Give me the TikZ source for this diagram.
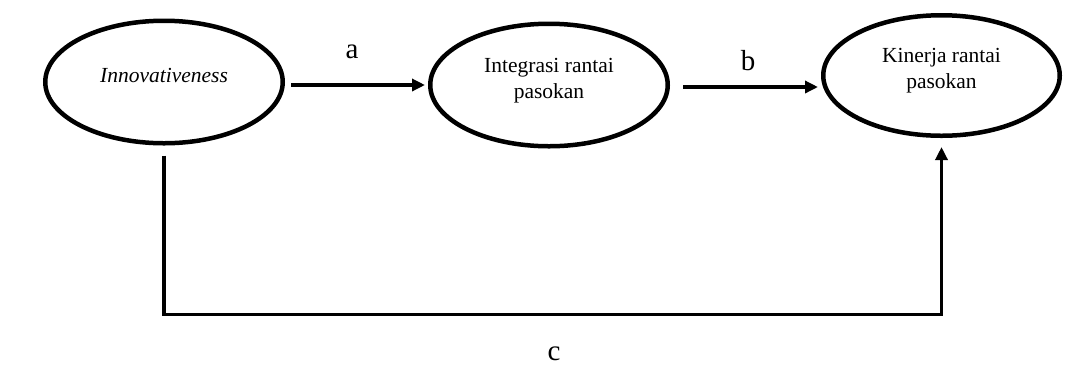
\documentclass[tikz,border=0pt]{standalone}
\usepackage{fontspec}
\setmainfont{Liberation Serif}
\usetikzlibrary{shapes.geometric,arrows.meta,positioning}

\begin{document}
\begin{tikzpicture}[x=1pt,y=-1pt,line width=3.5pt,
    >={Triangle[length=13pt,width=12pt]},
    var/.style={ellipse,draw,line width=4.5pt,minimum width=237.5pt,minimum height=122.5pt,
      align=center,font=\fontsize{21.5}{26}\selectfont,text depth=13pt},
    lbl/.style={inner sep=0pt,font=\fontsize{29}{34}\selectfont}]
    \useasboundingbox (0,0) rectangle (1065,368);
    \node[var] (innov) at (164,82) {\textit{Innovativeness}};
    \node[var] (integ) at (549,85) {Integrasi rantai\\pasokan};
    \node[var,minimum width=236.5pt,minimum height=120.5pt,text depth=15pt] (kin) at (941.5,75.5) {Kinerja rantai\\pasokan};
    \path[->]
    (innov.east |- integ) edge[shorten <=6pt,shorten >=3pt] (integ)
    ([yshift=-2pt]integ.east) edge[shorten <=13pt,shorten >=3pt] ([yshift=-2pt]integ.east -| kin.west);
    \draw[->,shorten <=10pt,shorten >=9pt] (innov.south) -- ++(0,169) -| (kin.south);
    \node[lbl] (a) at (352,52) {a};
    \node[lbl] (b) at (748,61) {b};
    \node[lbl] (c) at (554,354) {c};
  \end{tikzpicture}
\end{document}
